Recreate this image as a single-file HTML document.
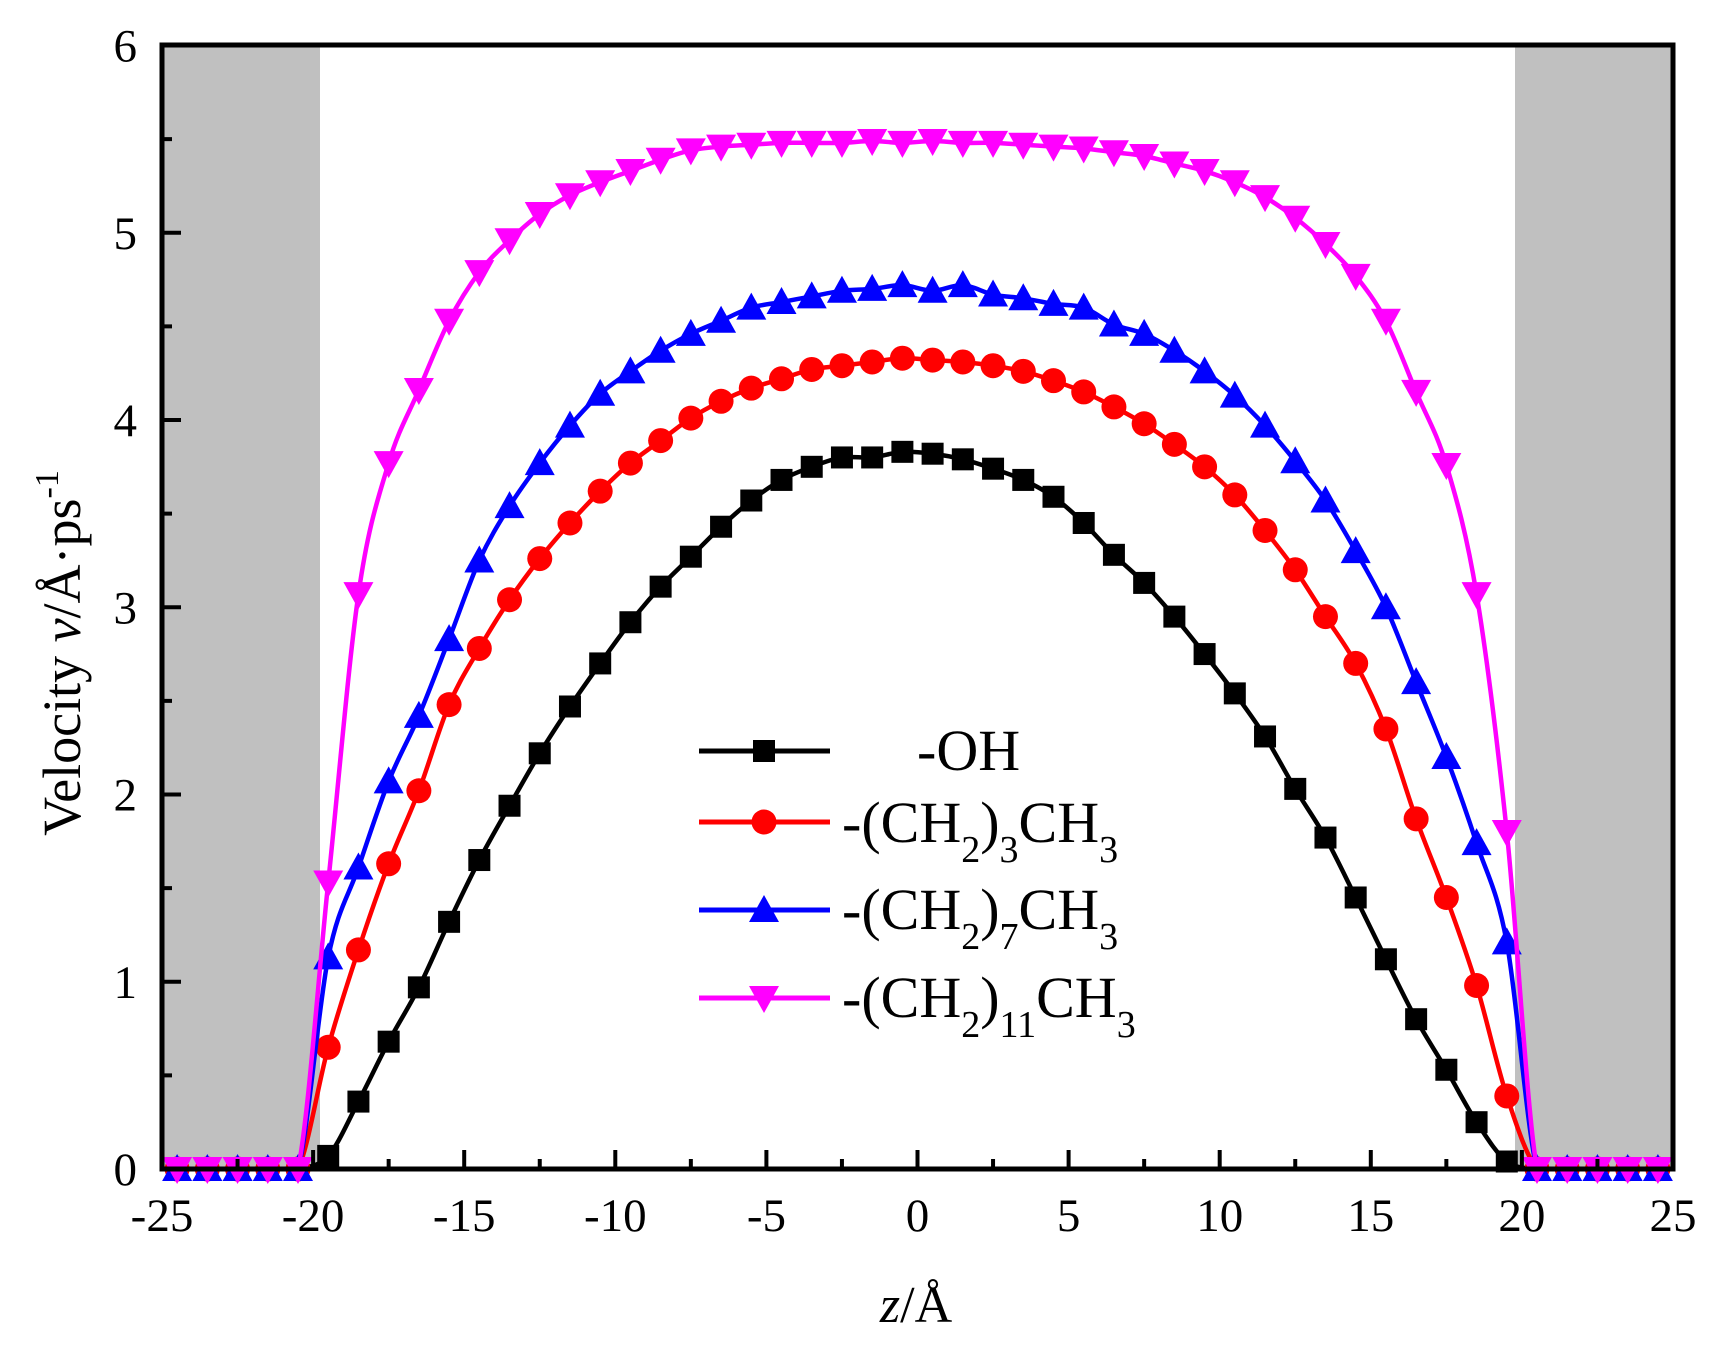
<!DOCTYPE html>
<html><head><meta charset="utf-8"><style>
html,body{margin:0;padding:0;background:#fff;}
svg{display:block;font-family:"Liberation Serif",serif;}
</style></head><body>
<svg id="s" width="1725" height="1349" viewBox="0 0 1725 1349" xmlns="http://www.w3.org/2000/svg">
<rect x="162" y="45" width="158" height="1124" fill="#c0c0c0"/>
<rect x="1515" y="45" width="158" height="1124" fill="#c0c0c0"/>
<g id="data"></g>
<rect x="162" y="45" width="1511" height="1124" fill="none" stroke="#000" stroke-width="5"/>
<g id="ticks" stroke="#000" stroke-width="4"></g>
<g font-size="47" fill="#000" id="lab"></g>
<text transform="translate(80,653) rotate(-90)" font-size="54" text-anchor="middle">Velocity <tspan font-style="italic">v</tspan>/Å·ps<tspan font-size="34" dy="-22">-1</tspan></text>
<text x="916" y="1322" font-size="52" text-anchor="middle"><tspan font-style="italic">z</tspan>/Å</text>
<g id="leg"></g>
<g font-size="58" fill="#000">
<text x="917" y="770">-OH</text>
<text x="842" y="842">-(CH<tspan font-size="38" dy="20">2</tspan><tspan dy="-20">)</tspan><tspan font-size="38" dy="20">3</tspan><tspan dy="-20">CH</tspan><tspan font-size="38" dy="20">3</tspan></text>
<text x="842" y="929">-(CH<tspan font-size="38" dy="20">2</tspan><tspan dy="-20">)</tspan><tspan font-size="38" dy="20">7</tspan><tspan dy="-20">CH</tspan><tspan font-size="38" dy="20">3</tspan></text>
<text x="842" y="1017">-(CH<tspan font-size="38" dy="20">2</tspan><tspan dy="-20">)</tspan><tspan font-size="38" dy="20">11</tspan><tspan dy="-20">CH</tspan><tspan font-size="38" dy="20">3</tspan></text>
</g>
</svg>
<script>
var NS="http://www.w3.org/2000/svg";
function X(z){return 162+(z+25)*30.22;}
function Y(v){return 1169-187.25*v;}
function el(p,t,a){var e=document.createElementNS(NS,t);for(var k in a)e.setAttribute(k,a[k]);p.appendChild(e);return e;}
var S=[
{c:"#000",m:"sq",v:[0.07,0.36,0.68,0.97,1.32,1.65,1.94,2.22,2.47,2.70,2.92,3.11,3.27,3.43,3.57,3.68,3.75,3.80,3.80,3.83,3.82,3.79,3.74,3.68,3.59,3.45,3.28,3.13,2.95,2.75,2.54,2.31,2.03,1.77,1.45,1.12,0.80,0.53,0.25,0.04]},
{c:"#f00",m:"ci",v:[0.65,1.17,1.63,2.02,2.48,2.78,3.04,3.26,3.45,3.62,3.77,3.89,4.01,4.10,4.17,4.22,4.27,4.29,4.31,4.33,4.32,4.31,4.29,4.26,4.21,4.15,4.07,3.98,3.87,3.75,3.60,3.41,3.20,2.95,2.70,2.35,1.87,1.45,0.98,0.39]},
{c:"#00f",m:"up",v:[1.13,1.61,2.07,2.42,2.83,3.25,3.54,3.77,3.97,4.14,4.26,4.37,4.46,4.53,4.60,4.63,4.66,4.69,4.70,4.72,4.69,4.72,4.67,4.65,4.62,4.60,4.51,4.46,4.37,4.26,4.13,3.97,3.78,3.57,3.30,3.00,2.60,2.20,1.74,1.21]},
{c:"#f0f",m:"dn",v:[1.53,3.07,3.77,4.16,4.53,4.79,4.96,5.10,5.20,5.27,5.33,5.39,5.44,5.46,5.47,5.48,5.48,5.48,5.49,5.48,5.49,5.48,5.48,5.47,5.46,5.45,5.43,5.41,5.37,5.33,5.27,5.19,5.08,4.94,4.77,4.53,4.15,3.76,3.07,1.80]}
];
function mk(g,m,x,y,c){
 if(m=="sq")el(g,"rect",{x:x-11,y:y-11,width:22,height:22,fill:c});
 else if(m=="ci")el(g,"circle",{cx:x,cy:y,r:12.5,fill:c});
 else if(m=="up")el(g,"polygon",{points:(x-15)+","+(y+12)+" "+(x+15)+","+(y+12)+" "+x+","+(y-15),fill:c});
 else el(g,"polygon",{points:(x-15)+","+(y-12)+" "+(x+15)+","+(y-12)+" "+x+","+(y+15),fill:c});
}
var Y0=Y(0);
function cy(y){return Math.min(y,Y0);}
var g=document.getElementById("data");
S.forEach(function(s){
 var pts=[];
 for(var z=-24.5;z<-20;z++)pts.push([z,0]);
 s.v.forEach(function(v,i){pts.push([-19.5+i,v]);});
 for(var z=20.5;z<25;z++)pts.push([z,0]);
 var P=pts.map(function(p){return [X(p[0]),Y(p[1])];});
 var d="M"+P[0][0]+","+P[0][1];
 for(var i=0;i<P.length-1;i++){
  var p0=P[Math.max(i-1,0)],p1=P[i],p2=P[i+1],p3=P[Math.min(i+2,P.length-1)];
  var t=0.5/3;
  if(p1[1]==Y0&&p2[1]==Y0){d+=" L"+p2[0]+","+p2[1];continue;}
  d+=" C"+(p1[0]+(p2[0]-p0[0])*t)+","+cy(p1[1]+(p2[1]-p0[1])*t)+" "+(p2[0]-(p3[0]-p1[0])*t)+","+cy(p2[1]-(p3[1]-p1[1])*t)+" "+p2[0]+","+p2[1];
 }
 el(g,"path",{d:d,fill:"none",stroke:s.c,"stroke-width":4.5});
 P.forEach(function(p){mk(g,s.m,p[0],p[1],s.c);});
});
var tk=document.getElementById("ticks"),lab=document.getElementById("lab");
for(var z=-25;z<=25;z+=2.5){var x=X(z),maj=(z%5==0);el(tk,"line",{x1:x,y1:1169,x2:x,y2:1169-(maj?19:10)});
 if(maj){var t=el(lab,"text",{x:x,y:1231,"text-anchor":"middle"});t.textContent=String(z);}}
for(var v=0;v<=6;v+=0.5){var y=Y(v),maj=(v%1==0);el(tk,"line",{x1:162,y1:y,x2:162+(maj?19:10),y2:y});
 if(maj){var t=el(lab,"text",{x:137,y:y+16,"text-anchor":"end"});t.textContent=String(v);}}
var lg=document.getElementById("leg"),ly=[751,822,910,998];
S.forEach(function(s,i){el(lg,"line",{x1:699,y1:ly[i],x2:830,y2:ly[i],stroke:s.c,"stroke-width":5});mk(lg,s.m,764,ly[i],s.c);});
</script>
</body></html>
